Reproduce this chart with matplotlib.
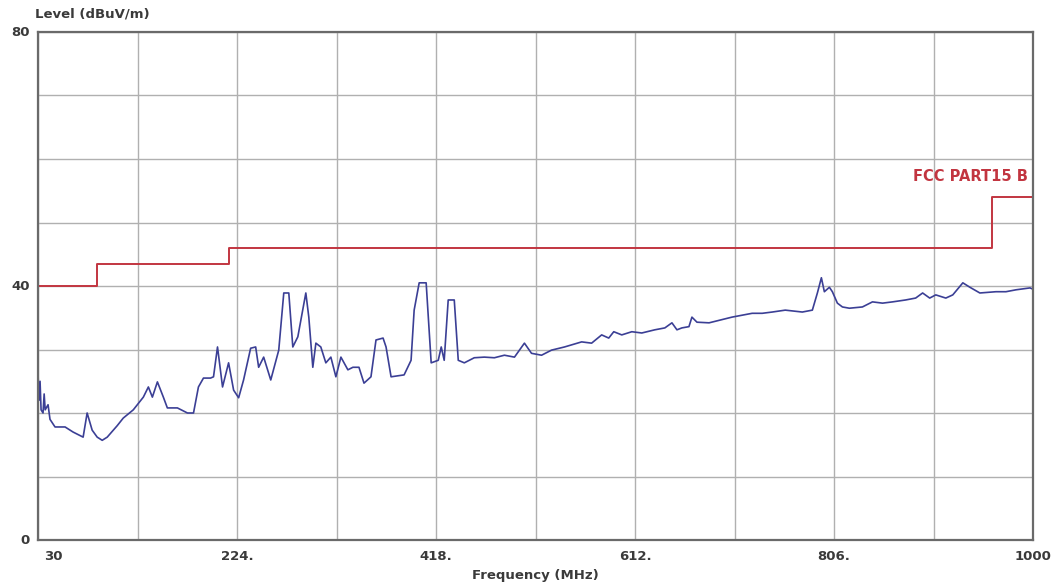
import matplotlib
matplotlib.use("Agg")
import matplotlib.pyplot as plt

# Measured emission trace (MHz, dBuV/m)
freq_mhz = [30, 31, 32, 33, 34.9, 36, 37, 39.8, 41.7, 46.6, 56.4, 64.2, 74, 77.9, 82.8, 87.7,
            92.6, 97.5, 107.2, 113.1, 122.9, 132.7, 137.6, 141.5, 146.4, 152.2, 156.1,
            165.9, 175.7, 181.6,
            186.4, 191.3, 198.2, 201.1, 205, 209.9, 215.8, 220.7, 225.6, 230.4, 237.3,
            242.2, 245.1, 250, 256.9, 264.7, 269.6, 274.5, 278.4, 283.3, 291.1, 294,
            297.9, 300.9, 305.7, 310.6, 315.5, 320.4, 325.3, 332.1, 337, 342.9, 347.8,
            354.6, 359.5, 366.4, 369.3, 374.2, 386.9, 393.7, 396.7, 401.6, 408.4, 413.3,
            420.2, 423.1, 426, 429.9, 435.8, 439.7, 445.6, 455.3, 465.1, 474.9, 484.7,
            494.5, 504.2, 511.1, 520.9,
            530.6, 543.3, 560, 569.7, 579.5, 586.4, 591.3, 599.1, 608.9, 618.6, 631.3,
            641.1, 648, 652.9, 657.7, 664.6, 667.5, 672.4, 684.2, 694, 706.6, 716.4,
            726.2, 736, 745.8, 758.5,
            775.1, 784.9, 789.8, 793.7, 796.6, 801.5, 804.4, 809.3, 814.2, 821, 833.7,
            843.5, 853.3, 863.1, 875.8, 885.6, 892.4, 899.3, 905.2, 915, 921.8, 931.6,
            938.5, 948.2, 963.9, 973.6, 983.4, 997.1, 1000]
level_dbuv = [26.3, 22.0, 25.0, 20.5, 20.0, 23.0, 20.5, 21.3, 19.0, 17.8, 17.8, 17.0, 16.2, 20.0,
              17.3, 16.2,
              15.7, 16.2, 18.0, 19.2, 20.5, 22.5, 24.1, 22.5, 24.9, 22.5, 20.8, 20.8, 20.0, 20.0,
              24.1, 25.5, 25.5, 25.7, 30.4, 24.1, 27.9, 23.6, 22.4, 25.2, 30.2, 30.4, 27.2,
              28.8, 25.2, 29.9, 38.9, 38.9, 30.4, 32.0, 38.9, 35.1, 27.2, 31.0, 30.4, 27.9,
              28.8, 25.7, 28.8, 26.8, 27.2, 27.2, 24.7,
              25.7, 31.5, 31.8, 30.4, 25.7, 26.0, 28.3, 36.2, 40.5, 40.5, 27.9, 28.3, 30.4,
              28.3, 37.8, 37.8, 28.3, 27.9, 28.7, 28.8, 28.7, 29.1, 28.8, 31.0, 29.4, 29.1,
              29.9, 30.4, 31.2, 31.0, 32.3, 31.8, 32.8, 32.3, 32.8, 32.6, 33.1, 33.4, 34.2,
              33.1, 33.4, 33.6, 35.1, 34.3, 34.2, 34.6, 35.1, 35.4, 35.7, 35.7, 35.9, 36.2,
              35.9, 36.2, 38.9, 41.3, 39.1, 39.8, 39.1, 37.3, 36.7, 36.5, 36.7, 37.5, 37.3,
              37.5, 37.8, 38.1, 38.9, 38.1, 38.6, 38.1, 38.6, 40.5, 39.8, 38.9, 39.1, 39.1,
              39.4, 39.7, 39.5]

# FCC Part 15 Class B limit (step edges)
limit_freq = [30, 88, 88, 216, 216, 960, 960, 1000]
limit_level = [40, 40, 43.5, 43.5, 46, 46, 54, 54]

x_ticks = [30, 127, 224, 321, 418, 515, 612, 709, 806, 903, 1000]
x_tick_labels = ["30", "", "224.", "", "418.", "", "612.", "", "806.", "", "1000"]
y_ticks = [0, 10, 20, 30, 40, 50, 60, 70, 80]
y_tick_labels = ["0", "", "", "", "40", "", "", "", "80"]

W, H = 1053, 586
fig = plt.figure(figsize=(W / 100, H / 100), dpi=100)
ax = fig.add_axes([38 / W, 1 - 540 / H, (1033 - 38) / W, (540 - 32) / H])

ax.plot(freq_mhz, level_dbuv, color="#3b3f95", linewidth=1.2)
ax.plot(limit_freq, limit_level, color="#c23540", linewidth=1.4)

ax.set_xlim(30, 1000)
ax.set_ylim(0, 80)
ax.set_xticks(x_ticks)
ax.set_yticks(y_ticks)
ax.set_xticklabels([])
ax.set_yticklabels([])
ax.tick_params(length=0)
ax.grid(True, color="#b0b0b0", linewidth=1.0)
for s in ax.spines.values():
    s.set_color("#6a6a6a")
    s.set_linewidth(1.6)

lab_font = dict(fontsize=9.5, fontweight="bold", color="#3a3a3a",
                family=["Liberation Sans Narrow", "DejaVu Sans"])
for x, t in zip(x_ticks, x_tick_labels):
    if not t:
        continue
    if x == 30:
        ax.text(x + 6, -1.5, t, ha="left", va="top", **lab_font)
    else:
        ax.text(x, -1.5, t, ha="center", va="top", **lab_font)
for y, t in zip(y_ticks, y_tick_labels):
    if not t:
        continue
    ax.text(22, y, t, ha="right", va="center", **lab_font)

fig.text(35 / W, 1 - 14 / H, "Level (dBuV/m)", ha="left", va="center", **lab_font)
fig.text(535 / W, 1 - 575 / H, "Frequency (MHz)", ha="center", va="center", **lab_font)
ax.text(995, 56, "FCC PART15 B", ha="right", va="bottom", fontsize=10.5,
        fontweight="bold", color="#c23540", family=["Liberation Sans Narrow", "DejaVu Sans"])

fig.savefig("out.png", dpi=100, facecolor="white")
